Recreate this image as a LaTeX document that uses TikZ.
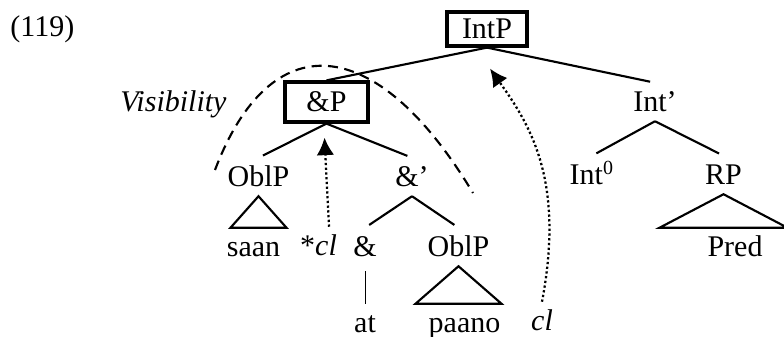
\documentclass[tikz,border=0pt]{standalone}
\usepackage{fontspec}
\setmainfont{Liberation Serif}
\usetikzlibrary{arrows.meta,calc}

\begin{document}
\begin{tikzpicture}[x=0.4pt, y=-0.4pt, font=\fontsize{12pt}{14pt}\selectfont,
    cat/.style={anchor=base, inner xsep=0pt, inner ysep=1pt, text height=10.5pt, text depth=2.5pt},
    boxed/.style={draw, line width=1.3pt, inner sep=0pt},
    branch/.style={line width=0.85pt},
    tri/.style={line width=0.85pt, line join=miter},
    move/.style={line width=0.9pt, dash pattern=on 0.9pt off 1pt, -{Latex[length=7pt,width=7pt]}},
    region/.style={line width=0.85pt, dash pattern=on 4pt off 2.6pt}]
    \useasboundingbox (0,0) rectangle (784,337);
    \clip (0,0) rectangle (784,337);

    % Example number
    \node[anchor=base west, inner sep=0pt] (num) at (10,37) {(119)};

    % Top boxes
    \node[boxed, minimum width=32pt, minimum height=13.6pt] (intp) at (487,29) {IntP};
    \node[boxed, minimum width=33.2pt, minimum height=16pt] (andp) at (326.5,102) {\&P};
    \node[anchor=base east, inner sep=0pt] (vis) at (227,112) {\textit{Visibility}};

    % Categories
    \node[cat] (intbar) at (655,112) {Int’};
    \node[cat] (int0) at (592,185) {Int\textsuperscript{0}};
    \node[cat] (rp) at (723.5,185) {RP};
    \node[cat] (oblA) at (258.5,187) {OblP};
    \node[cat] (andbar) at (412,187) {\&’};
    \node[cat] (amp) at (365,257) {\&};
    \node[cat] (oblB) at (458.5,257) {OblP};

    % Words
    \node[cat] (saan) at (253.5,257) {saan};
    \node[cat] (scl) at (318.5,256) {*\textit{cl}};
    \node[cat] (pred) at (735,257) {Pred};
    \node[cat] (at) at (365,333) {at};
    \node[cat] (paano) at (464.5,333) {paano};
    \node[cat] (cl) at (542,331) {\textit{cl}};

    % Branches
    \draw[branch] (intp.south) -- (andp.north);
    \draw[branch, shorten >=2pt] (intp.south) -- (intbar.north);
    \draw[branch, shorten >=2pt] (andp.south) -- (oblA.north);
    \draw[branch, shorten >=2pt] (andp.south) -- (andbar.north);
    \draw[branch, shorten >=2pt] (intbar.south) -- (int0.north);
    \draw[branch, shorten >=2pt] (intbar.south) -- (rp.north);
    \draw[branch, shorten >=2pt] (andbar.south) -- (amp.north);
    \draw[branch, shorten >=2pt] (andbar.south) -- (oblB.north);
    \draw[line width=0.4pt, shorten <=2pt] (amp.south) -- (at.north);

    % Triangles
    \draw[tri] (oblA.south) -- ($(oblA.south |- saan.north)+(-28,0)$) -- ($(oblA.south |- saan.north)+(28,0)$) -- cycle;
    \draw[tri] (oblB.south) -- ($(oblB.south |- paano.north)+(-43,0)$) -- ($(oblB.south |- paano.north)+(43,0)$) -- cycle;
    \draw[tri] (rp.south) -- ($(rp.south |- pred.north)+(-64,0)$) -- ($(rp.south |- pred.north)+(64,0)$) -- cycle;

    % Visibility domain
    \draw[region] (215,170) .. controls (270,25) and (375,30) .. (473,193);

    % Movement arrows
    \draw[move] ([xshift=4.2pt]scl.north) -- ($(andp.south)+(-2,14)$);
    \draw[move] (cl.north) .. controls (565,180) and (530,125) .. ($(intp.south)+(3,21)$);
\end{tikzpicture}
\end{document}
